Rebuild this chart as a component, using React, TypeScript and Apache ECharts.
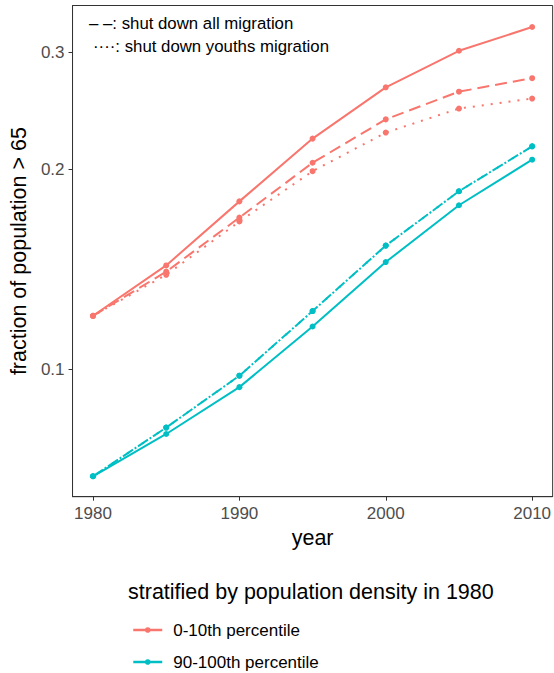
import React, { useEffect, useRef } from "react";
import * as echarts from "echarts";

const years = [1980, 1985, 1990, 1995, 2000, 2005, 2010];
const low10Baseline = [0.1203, 0.1433, 0.179, 0.2226, 0.266, 0.302, 0.328];
const low10AllShut = [0.1203, 0.1402, 0.1692, 0.2047, 0.238, 0.262, 0.2746];
const low10YouthShut = [0.1203, 0.1387, 0.1669, 0.1988, 0.2273, 0.2471, 0.2558];
const top90Baseline = [0.0689, 0.0798, 0.0939, 0.1159, 0.145, 0.1766, 0.2069];
const top90AllShut = [0.0689, 0.0816, 0.0977, 0.1223, 0.1535, 0.1854, 0.2167];
const top90YouthShut = [0.0689, 0.0816, 0.0977, 0.1223, 0.1535, 0.1854, 0.2167];
const xTicks = [1980, 1990, 2000, 2010];
const yTicks = [0.1, 0.2, 0.3];
const yTickLabels = ["0.1", "0.2", "0.3"];
const legendNames = ["0-10th percentile", "90-100th percentile"];

const RED = "#F8766D";
const TEAL = "#00BFC4";
const FONT = "'Liberation Sans', Arial, Helvetica, sans-serif";

function toPairs(vals: number[]) {
  return years.map((y, i) => [y, Math.log10(vals[i])]);
}

function mkSeries(name: string, vals: number[], color: string, type: string | number[], dashOffset = 0) {
  return {
    name,
    type: "line",
    data: toPairs(vals),
    symbol: "circle",
    symbolSize: 6,
    showSymbol: true,
    itemStyle: { color },
    lineStyle: { color, width: 2, type, dashOffset, cap: "butt" },
    emphasis: { disabled: true },
    z: 3,
  };
}

function mkLegend(name: string, top: number) {
  return {
    data: [name],
    orient: "vertical",
    left: 132,
    top,
    padding: 0,
    itemWidth: 29,
    itemHeight: 7,
    textStyle: { fontSize: 17, color: "#000", fontFamily: FONT, padding: [0, 0, 0, 6] },
    lineStyle: { width: 2.5 },
    selectedMode: false,
  };
}

export default function App() {
  const ref = useRef<HTMLDivElement>(null);
  useEffect(() => {
    if (!ref.current) return;
    const chart = echarts.init(ref.current, undefined, { renderer: "svg" });
    const logTicks = yTicks.map((v) => Math.log10(v));
    chart.setOption({
      animation: false,
      backgroundColor: "#ffffff",
      textStyle: { fontFamily: FONT },
      grid: {
        left: 71,
        top: 5.5,
        width: 482.8,
        height: 491.2,
        show: true,
        borderColor: "#333333",
        borderWidth: 1,
        backgroundColor: "transparent",
      },
      xAxis: {
        type: "value",
        min: 1978.6,
        max: 2011.4,
        name: "year",
        nameLocation: "middle",
        nameGap: 30,
        nameTextStyle: { fontSize: 21.5, color: "#000", fontFamily: FONT },
        splitLine: { show: false },
        axisLine: { show: true, lineStyle: { color: "#333333", width: 1 } },
        axisTick: { show: true, length: 4, customValues: xTicks, lineStyle: { color: "#333333" } },
        axisLabel: {
          customValues: xTicks,
          margin: 8,
          fontSize: 17,
          color: "#4d4d4d",
          fontFamily: FONT,
          formatter: (v: number) => String(Math.round(v)),
        },
      },
      yAxis: {
        type: "value",
        min: -1.1926,
        max: -0.4517,
        name: "fraction of population > 65",
        nameLocation: "middle",
        nameGap: 36,
        nameTextStyle: { fontSize: 21.5, color: "#000", fontFamily: FONT },
        splitLine: { show: false },
        axisLine: { show: true, lineStyle: { color: "#333333", width: 1 } },
        axisTick: { show: true, length: 4, customValues: logTicks, lineStyle: { color: "#333333" } },
        axisLabel: {
          customValues: logTicks,
          margin: 8,
          fontSize: 17,
          color: "#4d4d4d",
          fontFamily: FONT,
          formatter: (v: number) => {
            let best = 0;
            logTicks.forEach((t, i) => {
              if (Math.abs(t - v) < Math.abs(logTicks[best] - v)) best = i;
            });
            return yTickLabels[best];
          },
        },
      },
      legend: [mkLegend(legendNames[0], 621.5), mkLegend(legendNames[1], 653.5)],
      graphic: [
        {
          type: "text",
          left: 89,
          top: 15,
          style: { text: "\u2013 \u2013: shut down all migration", fontSize: 16.8, fill: "#000", fontFamily: FONT },
        },
        {
          type: "text",
          left: 93,
          top: 38,
          style: { text: "\u00b7\u00b7\u00b7\u00b7: shut down youths migration", fontSize: 16.8, fill: "#000", fontFamily: FONT },
        },
        {
          type: "text",
          left: 128,
          top: 581,
          style: { text: "stratified by population density in 1980", fontSize: 21.5, fill: "#000", fontFamily: FONT },
        },
      ],
      series: [
        mkSeries(legendNames[0], low10Baseline, RED, "solid"),
        mkSeries("low-all", low10AllShut, RED, [12, 6]),
        mkSeries("low-youth", low10YouthShut, RED, [2, 7], 4),
        mkSeries(legendNames[1], top90Baseline, TEAL, "solid"),
        mkSeries("top-all", top90AllShut, TEAL, [12, 6]),
        mkSeries("top-youth", top90YouthShut, TEAL, [2, 7], 4),
      ],
    });
    return () => chart.dispose();
  }, []);
  return (
    <div
      ref={ref}
      style={{ position: "absolute", left: 0, top: 0, width: 554, height: 673, background: "#fff" }}
    />
  );
}
